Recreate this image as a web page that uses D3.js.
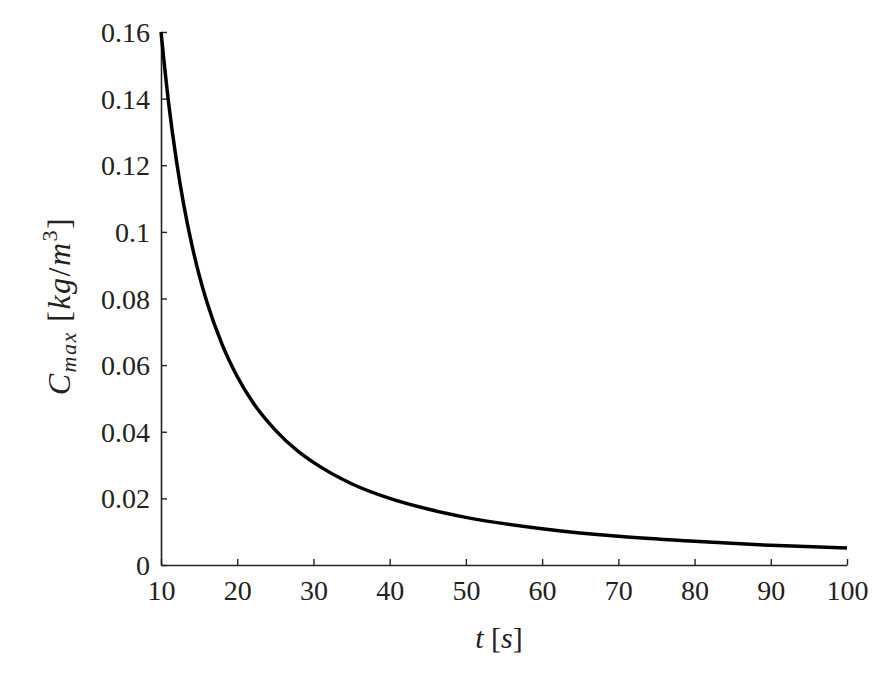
<!DOCTYPE html>
<html>
<head>
<meta charset="utf-8">
<script src="https://cdn.jsdelivr.net/npm/d3@7"></script>
<style>
  body { margin: 0; background: #fff; }
  text { font-family: "Liberation Serif", "DejaVu Serif", serif; fill: #222; }
</style>
</head>
<body>
<svg width="896" height="677"></svg>
<script>
// values
var times = [10, 11, 12, 13, 14, 15, 16, 18, 20, 22, 25, 28, 30, 35, 40, 45, 50, 60, 70, 80, 90, 100];
var cmax  = [0.160, 0.1387, 0.1217, 0.1079, 0.0966, 0.0871, 0.0791, 0.0663, 0.0566, 0.0490, 0.0405,
             0.0341, 0.0308, 0.0244, 0.0200, 0.0168, 0.0143, 0.0109, 0.0086, 0.0071, 0.0059, 0.0051];
var xTicks = [10, 20, 30, 40, 50, 60, 70, 80, 90, 100];
var yTicks = [0, 0.02, 0.04, 0.06, 0.08, 0.1, 0.12, 0.14, 0.16];

var svg = d3.select("svg"),
    plotLeft = 161, plotRight = 847, plotTop = 32, plotBottom = 565;

var x = d3.scaleLinear().domain([10, 100]).range([plotLeft, plotRight]),
    y = d3.scaleLinear().domain([0, 0.16]).range([plotBottom, plotTop]);

var data = times.map(function(t, i) { return { t: t, c: cmax[i] }; });

// x axis, ticks pointing inward
var gx = svg.append("g")
    .attr("transform", "translate(0," + plotBottom + ")")
    .call(d3.axisBottom(x).tickValues(xTicks).tickSizeInner(-6).tickSizeOuter(0).tickPadding(0)
        .tickFormat(function(d) { return d; }));
gx.select(".domain").attr("stroke", "#222").attr("stroke-width", 1.6);
gx.selectAll(".tick line").attr("stroke", "#222").attr("stroke-width", 1.4);
gx.selectAll(".tick text")
    .attr("y", 35).attr("dy", 0)
    .style("font-size", "28px");

// y axis
var gy = svg.append("g")
    .attr("transform", "translate(" + plotLeft + ",0)")
    .call(d3.axisLeft(y).tickValues(yTicks).tickSizeInner(-6).tickSizeOuter(0).tickPadding(0)
        .tickFormat(function(d) { return d; }));
gy.select(".domain").attr("stroke", "#222").attr("stroke-width", 1.6);
gy.selectAll(".tick line").attr("stroke", "#222").attr("stroke-width", 1.4);
gy.selectAll(".tick text")
    .attr("x", -11).attr("dy", "0.34em")
    .style("font-size", "28px");

// curve
var line = d3.line()
    .x(function(d) { return x(d.t); })
    .y(function(d) { return y(d.c); })
    .curve(d3.curveMonotoneX);

svg.append("path")
    .datum(data)
    .attr("fill", "none")
    .attr("stroke", "#000")
    .attr("stroke-width", 3.5)
    .attr("d", line);

// x label
var xl = svg.append("text")
    .attr("x", 499).attr("y", 648)
    .attr("text-anchor", "middle")
    .style("font-size", "30px");
xl.append("tspan").style("font-style", "italic").text("t");
xl.append("tspan").text(" [");
xl.append("tspan").style("font-style", "italic").text("s");
xl.append("tspan").text("]");

// y label
var yl = svg.append("text")
    .attr("transform", "translate(70,306) rotate(-90)")
    .attr("text-anchor", "middle")
    .style("font-size", "32px")
    .style("letter-spacing", "1.5px");
yl.append("tspan").style("font-style", "italic").text("C");
yl.append("tspan").style("font-style", "italic").style("font-size", "22px").attr("dy", 6).text("max");
yl.append("tspan").attr("dy", -6).text(" [");
yl.append("tspan").style("font-style", "italic").text("kg");
yl.append("tspan").text("/");
yl.append("tspan").style("font-style", "italic").text("m");
yl.append("tspan").style("font-size", "22px").attr("dy", -13).text("3");
yl.append("tspan").attr("dy", 13).text("]");
</script>
</body>
</html>
